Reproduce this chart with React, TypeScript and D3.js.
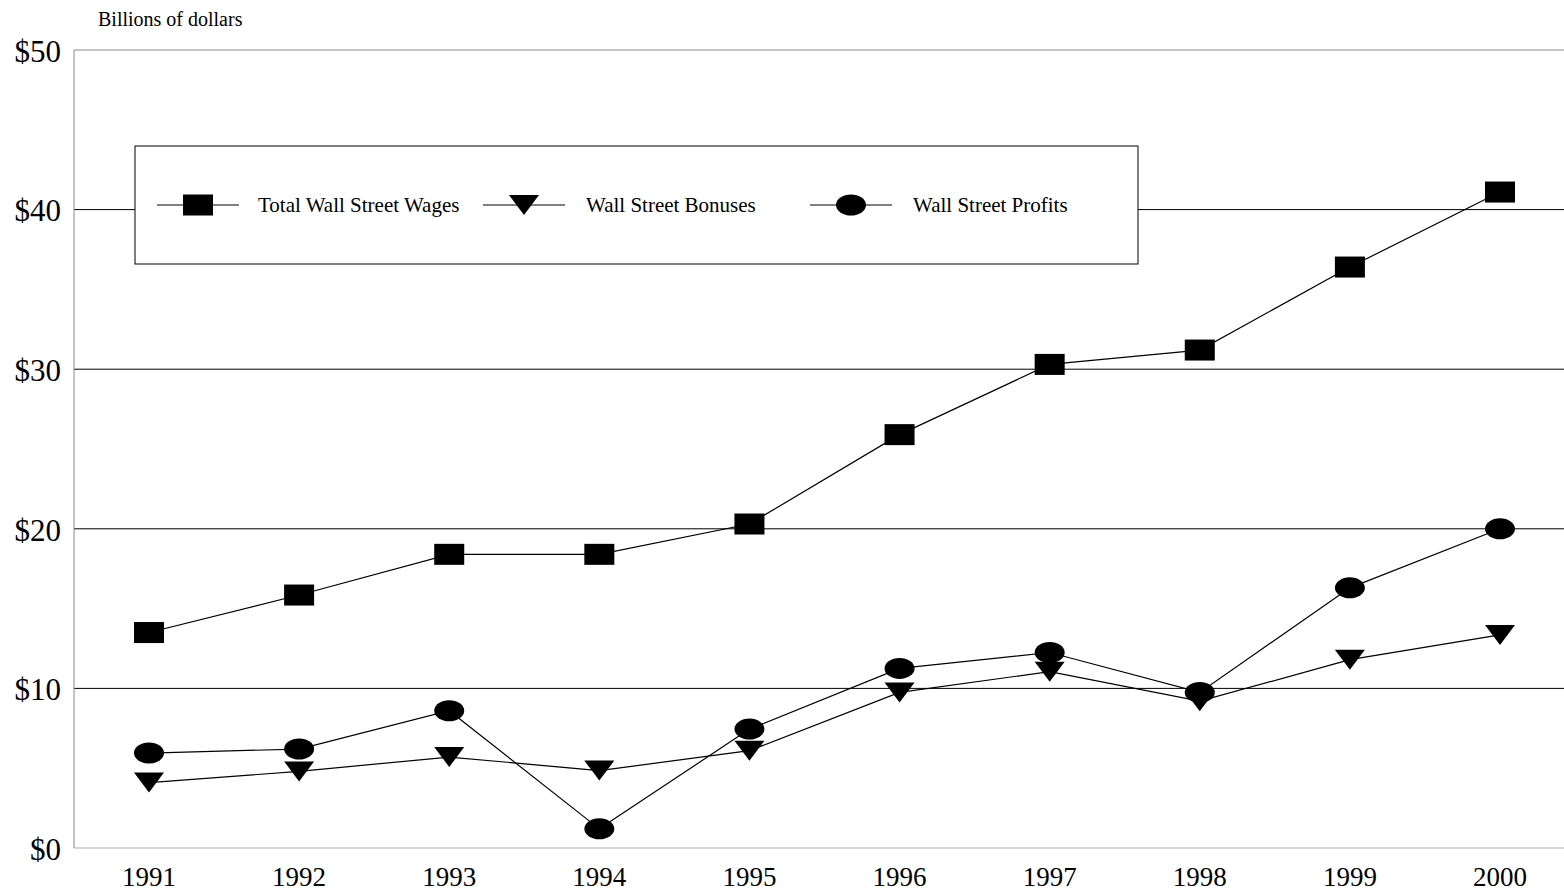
import React from 'react';
import * as d3 from 'd3';

const years = [1991, 1992, 1993, 1994, 1995, 1996, 1997, 1998, 1999, 2000];
const wages = [13.5, 15.85, 18.4, 18.4, 20.3, 25.9, 30.3, 31.2, 36.4, 41.1];
const bonuses = [4.1, 4.8, 5.7, 4.85, 6.1, 9.75, 11.05, 9.2, 11.8, 13.35];
const profits = [5.95, 6.2, 8.6, 1.2, 7.45, 11.25, 12.25, 9.75, 16.3, 20.0];
const yTicks = [0, 10, 20, 30, 40, 50];

const legendItems = [
  { label: 'Total Wall Street Wages', shape: 'square', lineX: 157, textX: 258 },
  { label: 'Wall Street Bonuses', shape: 'triangle', lineX: 483, textX: 586 },
  { label: 'Wall Street Profits', shape: 'circle', lineX: 810, textX: 913 },
];

const W = 1564;
const H = 891;
const FONT = '"Liberation Serif", "Times New Roman", serif';

const Marker: React.FC<{ shape: string; x: number; y: number }> = ({ shape, x, y }) => {
  if (shape === 'square') return <rect x={x - 15} y={y - 10.5} width={30} height={21} fill="#000" />;
  if (shape === 'circle') return <ellipse cx={x} cy={y} rx={15} ry={10.5} fill="#000" />;
  return <path d={`M${x - 15},${y - 10}L${x + 15},${y - 10}L${x},${y + 10}Z`} fill="#000" />;
};

const App: React.FC = () => {
  const x = d3.scaleLinear().domain([1991, 2000]).range([149, 1500]);
  const y = d3.scaleLinear().domain([0, 50]).range([848, 50]);
  const line = d3.line<number>().x((_, i) => x(years[i])).y((d) => y(d));

  const series = [
    { values: wages, shape: 'square' },
    { values: bonuses, shape: 'triangle' },
    { values: profits, shape: 'circle' },
  ];

  return (
    <div style={{ position: 'absolute', left: 0, top: 0 }}>
      <svg width={W} height={H} style={{ display: 'block', background: '#fff', fontFamily: FONT }}>
        <text x={98} y={26} fontSize={20}>Billions of dollars</text>

        {yTicks.map((t) => (
          <g key={t}>
            <line
              x1={74}
              x2={W}
              y1={y(t)}
              y2={y(t)}
              stroke={t === 0 ? '#b0b0b0' : t === 50 ? '#8a8a8a' : '#000'}
              strokeWidth={1}
            />
            <text x={61} y={y(t) + 1} dy="0.35em" fontSize={31} textAnchor="end">${t}</text>
          </g>
        ))}
        <line x1={74} x2={74} y1={50} y2={848} stroke="#8a8a8a" />

        {years.map((yr) => (
          <text key={yr} x={x(yr)} y={886} fontSize={27} textAnchor="middle">{yr}</text>
        ))}

        <rect x={135} y={146} width={1003} height={118} fill="#fff" stroke="#000" strokeWidth={1} />
        {legendItems.map((item) => (
          <g key={item.label}>
            <line x1={item.lineX} x2={item.lineX + 82} y1={205} y2={205} stroke="#000" />
            <Marker shape={item.shape} x={item.lineX + 41} y={205} />
            <text x={item.textX} y={212} fontSize={21}>{item.label}</text>
          </g>
        ))}

        {series.map((s) => (
          <path key={s.shape} d={line(s.values) || ''} fill="none" stroke="#000" strokeWidth={1.2} />
        ))}
        {series.map((s) =>
          s.values.map((v, i) => <Marker key={s.shape + i} shape={s.shape} x={x(years[i])} y={y(v)} />)
        )}
      </svg>
    </div>
  );
};

export default App;
